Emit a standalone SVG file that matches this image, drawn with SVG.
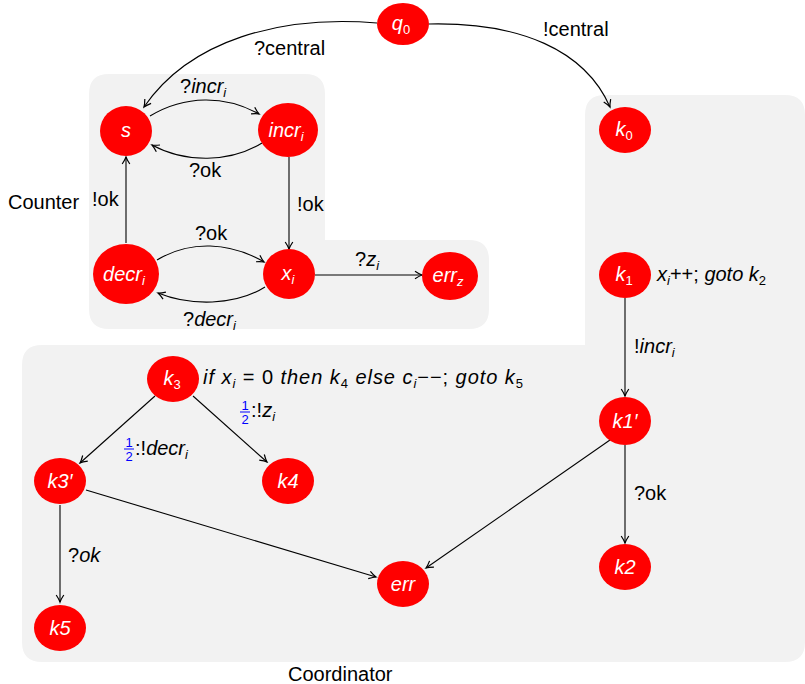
<svg xmlns="http://www.w3.org/2000/svg" width="805" height="684" viewBox="0 0 805 684">
  <style>
    .panel { fill: #f2f2f2; stroke: none; }
    .node ellipse { fill: #ff0000; stroke: none; }
    .node text { fill: #ffffff; font-family: "Liberation Sans", Arial, sans-serif; font-size: 20px; font-style: italic; text-anchor: middle; }
    .edge { fill: none; stroke: #000000; stroke-width: 1.1; marker-end: url(#arrow); }
    .lbl { fill: #000000; font-family: "Liberation Sans", Arial, sans-serif; font-size: 20px; }
    .it { font-style: italic; }
    .sub { font-size: 13px; }
    .frac { fill: #0000ff; font-family: "Liberation Sans", Arial, sans-serif; font-size: 13px; text-anchor: middle; }
  </style>
  <defs>
    <marker id="arrow" viewBox="-8 -5 10 10" refX="0" refY="0" markerWidth="10" markerHeight="10" markerUnits="userSpaceOnUse" orient="auto">
      <path d="M-7,-3.8 Q-2.5,-0.8 0,0 Q-2.5,0.8 -7,3.8" fill="none" stroke="#000" stroke-width="1.2"/>
    </marker>
  </defs>

  <!-- background panels -->
  <path class="panel" d="M109,74 L305,74 Q325,74 325,94 L325,240 L469,240 Q489,240 489,260 L489,309 Q489,329 469,329 L109,329 Q89,329 89,309 L89,94 Q89,74 109,74 Z"/>
  <path class="panel" d="M42,345 L585,345 L585,115 Q585,95 605,95 L785,95 Q805,95 805,115 L805,642 Q805,662 785,662 L42,662 Q22,662 22,642 L22,365 Q22,345 42,345 Z"/>
  <text class="lbl" x="8" y="209">Counter</text>
  <text class="lbl" x="288" y="681">Coordinator</text>

  <!-- connectors -->
  <g id="connectors">
    <path class="edge" d="M377,23 C280,15 190,40 144,107"/>
    <path class="edge" d="M429,24 C520,22 585,50 610,107"/>
    <path class="edge" d="M150,116 C185,95 225,95 259,114"/>
    <path class="edge" d="M262,143 C230,163 185,163 152,145"/>
    <path class="edge" d="M126,243 L126,157"/>
    <path class="edge" d="M289,157 L289,249"/>
    <path class="edge" d="M157,260 C190,240 230,242 264,262"/>
    <path class="edge" d="M265,287 C235,306 190,306 158,293"/>
    <path class="edge" d="M315,275 L422,275"/>
    <path class="edge" d="M625,298 L625,396"/>
    <path class="edge" d="M625,445 L625,543"/>
    <path class="edge" d="M610,440 L426,568"/>
    <path class="edge" d="M155,396 L80,463"/>
    <path class="edge" d="M193,396 L267,462"/>
    <path class="edge" d="M86,490 L376,577"/>
    <path class="edge" d="M60,505 L60,602"/>

    <!-- connector labels -->
    <text class="lbl" x="254" y="55">?central</text>
    <text class="lbl" x="543" y="36">!central</text>
    <text class="lbl" x="180" y="93">?<tspan class="it">incr</tspan><tspan class="it sub" dy="4">i</tspan></text>
    <text class="lbl" x="189" y="177">?ok</text>
    <text class="lbl" x="92" y="206">!ok</text>
    <text class="lbl" x="297" y="211">!ok</text>
    <text class="lbl" x="195" y="240">?ok</text>
    <text class="lbl" x="355" y="266">?<tspan class="it">z</tspan><tspan class="it sub" dy="4">i</tspan></text>
    <text class="lbl" x="183" y="326">?<tspan class="it">decr</tspan><tspan class="it sub" dy="4">i</tspan></text>
    <text class="lbl" x="634" y="353">!<tspan class="it">incr</tspan><tspan class="it sub" dy="4">i</tspan></text>
    <text class="lbl" x="634" y="500">?ok</text>
    <text class="lbl" x="68" y="562">?<tspan class="it">ok</tspan></text>

    <text class="frac" x="245" y="410">1</text>
    <line x1="240" y1="412" x2="250" y2="412" stroke="#0000ff" stroke-width="1"/>
    <text class="frac" x="245" y="424">2</text>
    <text class="lbl" x="251" y="417">:!<tspan class="it">z</tspan><tspan class="it sub" dy="4">i</tspan></text>

    <text class="frac" x="129" y="447">1</text>
    <line x1="124" y1="449" x2="134" y2="449" stroke="#0000ff" stroke-width="1"/>
    <text class="frac" x="129" y="461">2</text>
    <text class="lbl" x="135" y="455">:!<tspan class="it">decr</tspan><tspan class="it sub" dy="4">i</tspan></text>
  </g>

  <!-- action annotations -->
  <text class="lbl" x="657" y="281"><tspan class="it">x</tspan><tspan class="it sub" dy="4">i</tspan><tspan dy="-4">++; </tspan><tspan class="it">goto k</tspan><tspan class="sub" dy="4">2</tspan></text>
  <text class="lbl" x="203" y="384" textLength="320" lengthAdjust="spacing"><tspan class="it">if x</tspan><tspan class="it sub" dy="4">i</tspan><tspan dy="-4"> = 0 </tspan><tspan class="it">then k</tspan><tspan class="sub" dy="4">4</tspan><tspan class="it" dy="-4"> else c</tspan><tspan class="it sub" dy="4">i</tspan><tspan dy="-4">−−; </tspan><tspan class="it">goto k</tspan><tspan class="sub" dy="4">5</tspan></text>

  <!-- nodes -->
  <g id="q0" class="node"><ellipse cx="403" cy="24" rx="26" ry="21"/><text x="401" y="30">q<tspan class="sub" dy="4" font-style="normal">0</tspan></text></g>
  <g id="s" class="node"><ellipse cx="126" cy="131" rx="26" ry="25"/><text x="126" y="137">s</text></g>
  <g id="incr" class="node"><ellipse cx="288" cy="130" rx="30" ry="27"/><text x="286" y="137">incr<tspan class="sub" dy="4">i</tspan></text></g>
  <g id="decr" class="node"><ellipse cx="126" cy="274" rx="33" ry="30"/><text x="124" y="281">decr<tspan class="sub" dy="4">i</tspan></text></g>
  <g id="xi" class="node"><ellipse cx="289" cy="274" rx="26" ry="25"/><text x="288" y="280">x<tspan class="sub" dy="4">i</tspan></text></g>
  <g id="errz" class="node"><ellipse cx="450" cy="276" rx="28" ry="24"/><text x="448" y="282">err<tspan class="sub" dy="4">z</tspan></text></g>
  <g id="k0" class="node"><ellipse cx="625" cy="130" rx="26" ry="23"/><text x="624" y="136">k<tspan class="sub" dy="4" font-style="normal">0</tspan></text></g>
  <g id="k1" class="node"><ellipse cx="625" cy="275" rx="26" ry="23"/><text x="624" y="281">k<tspan class="sub" dy="4" font-style="normal">1</tspan></text></g>
  <g id="k1p" class="node"><ellipse cx="625" cy="421" rx="26" ry="24"/><text x="625" y="428">k1′</text></g>
  <g id="k2" class="node"><ellipse cx="625" cy="567" rx="26" ry="23"/><text x="625" y="574">k2</text></g>
  <g id="k3" class="node"><ellipse cx="173" cy="379" rx="26" ry="23"/><text x="172" y="385">k<tspan class="sub" dy="4" font-style="normal">3</tspan></text></g>
  <g id="k3p" class="node"><ellipse cx="60" cy="481" rx="26" ry="23"/><text x="60" y="488">k3′</text></g>
  <g id="k4" class="node"><ellipse cx="288" cy="481" rx="26" ry="23"/><text x="288" y="488">k4</text></g>
  <g id="err" class="node"><ellipse cx="403" cy="584" rx="26" ry="23"/><text x="403" y="591">err</text></g>
  <g id="k5" class="node"><ellipse cx="60" cy="628" rx="26" ry="23"/><text x="60" y="635">k5</text></g>
</svg>
